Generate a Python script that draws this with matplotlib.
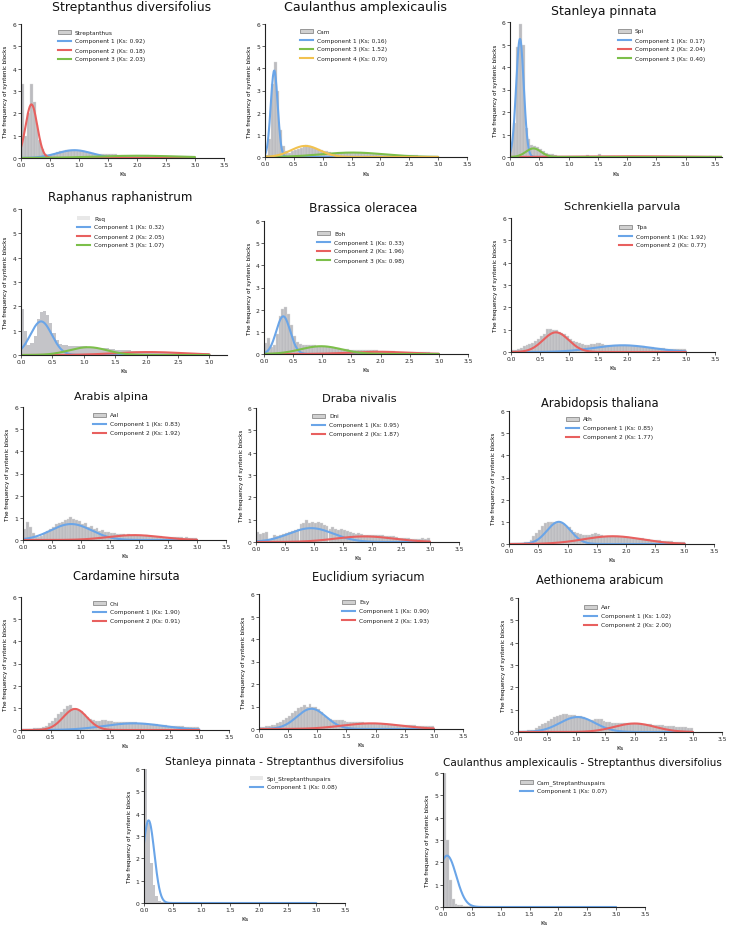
import numpy as np
import matplotlib
matplotlib.use("Agg")
import matplotlib.pyplot as plt
from matplotlib.patches import Rectangle
from matplotlib.lines import Line2D

W, H = 733, 928
BIN = 0.05

# ---------------- histogram bar heights (0.05-wide Ks bins starting at 0) -------------
strep_hist = [3.3, 1.0, 2.0, 3.3, 2.5, 1.5, 0.8, 0.4, 0.2, 0.12,
              0.15, 0.2, 0.25, 0.3, 0.32, 0.34, 0.35, 0.36, 0.35, 0.33,
              0.32, 0.3, 0.28, 0.25, 0.22, 0.2, 0.2, 0.18, 0.18, 0.2,
              0.17, 0.16, 0.16, 0.15, 0.15, 0.14, 0.14, 0.14, 0.13, 0.13,
              0.13, 0.12, 0.12, 0.12, 0.11, 0.11, 0.1, 0.1, 0.1, 0.1,
              0.09, 0.09, 0.09, 0.08, 0.08, 0.08, 0.07, 0.07, 0.07, 0.07]
caul_hist = [0.1, 0.8, 3.3, 4.3, 3.0, 1.2, 0.5, 0.25, 0.2, 0.25,
             0.3, 0.35, 0.42, 0.48, 0.52, 0.5, 0.46, 0.42, 0.38, 0.33,
             0.28, 0.25, 0.22, 0.2, 0.19, 0.19, 0.19, 0.19, 0.2, 0.2,
             0.2, 0.19, 0.18, 0.17, 0.16, 0.15, 0.14, 0.13, 0.12, 0.12,
             0.11, 0.11, 0.1, 0.1, 0.09, 0.09, 0.09, 0.08, 0.08, 0.08,
             0.07, 0.07, 0.07, 0.06, 0.06, 0.06, 0.05, 0.05, 0.05, 0.05]
stan_hist = [0.6, 1.5, 4.9, 5.9, 5.0, 1.3, 0.8, 0.55, 0.5, 0.45,
             0.35, 0.25, 0.2, 0.15, 0.12, 0.08, 0.06, 0.05, 0.05, 0.05,
             0.05, 0.04, 0.05, 0.04, 0.05, 0.05, 0.1, 0.05, 0.04, 0.05,
             0.12, 0.04, 0.03, 0.03, 0.03, 0.03, 0.02, 0.02, 0.02, 0.02,
             0.02, 0.02, 0.02, 0.02, 0.02, 0.02, 0.02, 0.02, 0.02, 0.02,
             0.02, 0.02, 0.02, 0.02, 0.02, 0.02, 0.02, 0.02, 0.02, 0.02,
             0.02, 0.02, 0.02, 0.02, 0.02, 0.02, 0.02, 0.02, 0.05, 0.02, 0.02, 0.02]
raph_hist = [1.9, 1.0, 0.4, 0.5, 0.8, 1.5, 1.75, 1.8, 1.65, 1.3,
             0.9, 0.6, 0.45, 0.4, 0.4, 0.38, 0.36, 0.35, 0.35, 0.35,
             0.35, 0.34, 0.33, 0.32, 0.3, 0.3, 0.28, 0.27, 0.26, 0.25,
             0.22, 0.21, 0.2, 0.2, 0.19, 0.18, 0.18, 0.17, 0.17, 0.16,
             0.15, 0.15, 0.14, 0.14, 0.13, 0.13, 0.12, 0.12, 0.11, 0.11,
             0.1, 0.1, 0.09, 0.09, 0.09, 0.08, 0.08, 0.07, 0.07, 0.07]
bras_hist = [0.5, 0.7, 0.3, 0.4, 0.9, 1.7, 2.05, 2.1, 1.8, 1.3,
             0.8, 0.55, 0.45, 0.42, 0.42, 0.42, 0.4, 0.4, 0.38, 0.38,
             0.36, 0.34, 0.32, 0.3, 0.28, 0.26, 0.24, 0.22, 0.21, 0.2,
             0.2, 0.2, 0.19, 0.19, 0.18, 0.18, 0.17, 0.16, 0.16, 0.15,
             0.14, 0.13, 0.13, 0.12, 0.12, 0.11, 0.11, 0.1, 0.1, 0.09,
             0.09, 0.08, 0.08, 0.08, 0.07, 0.07, 0.07, 0.06, 0.06, 0.06]
schr_hist = [0.1, 0.1, 0.15, 0.2, 0.25, 0.3, 0.35, 0.4, 0.5, 0.6,
             0.7, 0.8, 1.05, 1.05, 1.0, 1.0, 0.9, 0.85, 0.8, 0.7,
             0.6, 0.5, 0.45, 0.4, 0.35, 0.3, 0.32, 0.35, 0.38, 0.4,
             0.4, 0.38, 0.32, 0.3, 0.3, 0.3, 0.31, 0.32, 0.3, 0.3,
             0.3, 0.28, 0.28, 0.27, 0.26, 0.25, 0.24, 0.23, 0.22, 0.2,
             0.18, 0.17, 0.16, 0.15, 0.15, 0.14, 0.14, 0.13, 0.12, 0.12]
arab_hist = [0.5, 0.8, 0.6, 0.3, 0.15, 0.15, 0.2, 0.3, 0.4, 0.5,
             0.6, 0.7, 0.75, 0.8, 0.9, 0.95, 1.05, 0.95, 0.9, 0.85,
             0.7, 0.75, 0.6, 0.65, 0.5, 0.55, 0.4, 0.45, 0.35, 0.35,
             0.3, 0.3, 0.28, 0.25, 0.27, 0.24, 0.25, 0.23, 0.22, 0.24,
             0.22, 0.2, 0.21, 0.19, 0.2, 0.18, 0.17, 0.16, 0.15, 0.14,
             0.14, 0.13, 0.15, 0.12, 0.12, 0.11, 0.13, 0.1, 0.1, 0.09]
draba_hist = [0.45, 0.35, 0.4, 0.45, 0.15, 0.2, 0.3, 0.25, 0.3, 0.35,
              0.4, 0.45, 0.5, 0.55, 0.6, 0.8, 0.85, 1.0, 0.85, 0.9,
              0.85, 0.9, 0.85, 0.75, 0.7, 0.6, 0.65, 0.6, 0.55, 0.6,
              0.55, 0.5, 0.45, 0.4, 0.35, 0.4, 0.35, 0.32, 0.32, 0.33,
              0.32, 0.3, 0.3, 0.3, 0.28, 0.26, 0.25, 0.25, 0.22, 0.2,
              0.2, 0.18, 0.16, 0.15, 0.15, 0.14, 0.15, 0.18, 0.15, 0.2]
ath_hist = [0.05, 0.05, 0.05, 0.05, 0.06, 0.08, 0.1, 0.2, 0.35, 0.5,
            0.65, 0.8, 0.95, 1.0, 1.0, 1.0, 0.95, 0.95, 0.9, 0.8,
            0.75, 0.65, 0.55, 0.5, 0.45, 0.42, 0.4, 0.4, 0.45, 0.5,
            0.45, 0.4, 0.36, 0.35, 0.35, 0.36, 0.35, 0.34, 0.33, 0.32,
            0.3, 0.29, 0.28, 0.27, 0.26, 0.25, 0.24, 0.22, 0.2, 0.19,
            0.17, 0.16, 0.15, 0.14, 0.13, 0.12, 0.11, 0.1, 0.1, 0.09]
card_hist = [0.05, 0.05, 0.06, 0.06, 0.08, 0.08, 0.1, 0.15, 0.2, 0.3,
             0.4, 0.55, 0.7, 0.8, 0.95, 1.1, 1.15, 1.0, 0.95, 0.9,
             0.85, 0.7, 0.6, 0.5, 0.45, 0.4, 0.42, 0.45, 0.45, 0.42,
             0.4, 0.38, 0.38, 0.37, 0.36, 0.36, 0.35, 0.35, 0.34, 0.33,
             0.32, 0.3, 0.29, 0.28, 0.27, 0.25, 0.24, 0.22, 0.21, 0.2,
             0.19, 0.18, 0.17, 0.16, 0.16, 0.15, 0.15, 0.14, 0.14, 0.13]
eucl_hist = [0.1, 0.1, 0.15, 0.15, 0.2, 0.2, 0.25, 0.3, 0.4, 0.5,
             0.6, 0.7, 0.8, 0.95, 1.0, 1.05, 1.0, 1.1, 1.0, 1.0,
             0.9, 0.75, 0.6, 0.5, 0.45, 0.42, 0.4, 0.4, 0.38, 0.35,
             0.32, 0.3, 0.3, 0.3, 0.3, 0.29, 0.28, 0.28, 0.27, 0.26,
             0.25, 0.24, 0.23, 0.22, 0.22, 0.21, 0.2, 0.2, 0.19, 0.18,
             0.17, 0.17, 0.16, 0.16, 0.15, 0.15, 0.14, 0.14, 0.13, 0.12]
aeth_hist = [0.05, 0.05, 0.06, 0.07, 0.08, 0.1, 0.2, 0.28, 0.35, 0.42,
             0.5, 0.58, 0.65, 0.7, 0.75, 0.8, 0.8, 0.78, 0.75, 0.75,
             0.72, 0.7, 0.65, 0.6, 0.55, 0.55, 0.6, 0.6, 0.6, 0.5,
             0.45, 0.43, 0.42, 0.42, 0.42, 0.42, 0.42, 0.42, 0.42, 0.42,
             0.42, 0.4, 0.38, 0.36, 0.35, 0.34, 0.32, 0.31, 0.3, 0.3,
             0.28, 0.27, 0.26, 0.25, 0.24, 0.23, 0.22, 0.21, 0.2, 0.2]
spistrep_hist = [6.0, 3.6, 1.8, 0.8, 0.3, 0.1, 0.05, 0.03, 0.02, 0.02]
camstrep_hist = [6.0, 3.0, 1.2, 0.35, 0.15, 0.1, 0.07, 0.05, 0.04, 0.03]

# ---------------- mixture components: id, Ks (mean), sd, peak height -----------------
strep_id, strep_ks, strep_sd, strep_pk = [1, 2, 3], [0.92, 0.18, 2.03], [0.30, 0.10, 0.75], [0.35, 2.4, 0.10]
caul_id, caul_ks, caul_sd, caul_pk = [1, 3, 4], [0.16, 1.52, 0.70], [0.06, 0.55, 0.25], [3.9, 0.20, 0.50]
stan_id, stan_ks, stan_sd, stan_pk = [1, 2, 3], [0.17, 2.04, 0.40], [0.065, 0.9, 0.13], [5.25, 0.03, 0.38]
raph_id, raph_ks, raph_sd, raph_pk = [1, 2, 3], [0.32, 2.05, 1.07], [0.17, 0.55, 0.30], [1.38, 0.12, 0.32]
bras_id, bras_ks, bras_sd, bras_pk = [1, 2, 3], [0.33, 1.96, 0.98], [0.12, 0.50, 0.35], [1.70, 0.10, 0.35]
schr_id, schr_ks, schr_sd, schr_pk = [1, 2], [1.92, 0.77], [0.50, 0.22], [0.30, 0.88]
arab_id, arab_ks, arab_sd, arab_pk = [1, 2], [0.83, 1.92], [0.35, 0.45], [0.72, 0.22]
draba_id, draba_ks, draba_sd, draba_pk = [1, 2], [0.95, 1.87], [0.38, 0.50], [0.62, 0.25]
ath_id, ath_ks, ath_sd, ath_pk = [1, 2], [0.85, 1.77], [0.20, 0.50], [1.00, 0.35]
card_id, card_ks, card_sd, card_pk = [1, 2], [1.90, 0.91], [0.50, 0.20], [0.30, 0.95]
eucl_id, eucl_ks, eucl_sd, eucl_pk = [1, 2], [0.90, 1.93], [0.25, 0.50], [0.90, 0.25]
aeth_id, aeth_ks, aeth_sd, aeth_pk = [1, 2], [1.02, 2.00], [0.30, 0.35], [0.67, 0.38]
spistrep_id, spistrep_ks, spistrep_sd, spistrep_pk = [1], [0.08], [0.10], [3.7]
camstrep_id, camstrep_ks, camstrep_sd, camstrep_pk = [1], [0.07], [0.16], [2.3]

COLORS = {1: "#6aa5e8", 2: "#e8605f", 3: "#7cbf4a", 4: "#f2c24f"}
BAR_FACE = "#bcbcc0"
BAR_EDGE = "#dcdcdc"

# panel: title, title (cx, cy, size), axes box px (left, right_at_xmax, top, bottom), xmax,
# xticks, hist, hist label, legend (x, y), legend style, components, curve end
panels = [
    ("Streptanthus diversifolius", (132, 8, 8.9), (21, 224, 25, 159), 3.5, 3.5, strep_hist, "Streptanthus", (58, 33), "edge",
     (strep_id, strep_ks, strep_sd, strep_pk), 3.0, "{:.2f}"),
    ("Caulanthus amplexicaulis", (366, 8, 9.1), (265, 467, 25, 158), 3.5, 3.5, caul_hist, "Cam", (300, 32), "edge",
     (caul_id, caul_ks, caul_sd, caul_pk), 3.0, "{:.2f}"),
    ("Stanleya pinnata", (604, 11, 8.9), (510, 722, 23, 158), 3.62, 3.5, stan_hist, "Spi", (618, 32), "edge",
     (stan_id, stan_ks, stan_sd, stan_pk), 3.62, "{:.2f}"),
    ("Raphanus raphanistrum", (120, 198, 8.6), (21, 227, 210, 356), 3.28, 3.0, raph_hist, "Rsq", (77, 219), "light",
     (raph_id, raph_ks, raph_sd, raph_pk), 3.0, "{:.2f}"),
    ("Brassica oleracea", (363, 209, 8.8), (264, 468, 222, 355), 3.5, 3.5, bras_hist, "Boh", (317, 234), "edge",
     (bras_id, bras_ks, bras_sd, bras_pk), 3.0, "{:.2f}"),
    ("Schrenkiella parvula", (622, 207, 8.2), (511, 715, 219, 353), 3.5, 3.5, schr_hist, "Tpa", (619, 228), "edge",
     (schr_id, schr_ks, schr_sd, schr_pk), 3.0, "{:.2f}"),
    ("Arabis alpina", (111, 397, 8.2), (23, 226, 408, 541), 3.5, 3.5, arab_hist, "Aal", (93, 416), "edge",
     (arab_id, arab_ks, arab_sd, arab_pk), 3.0, "{:.2f}"),
    ("Draba nivalis", (359, 399, 8.2), (256, 459, 409, 543), 3.5, 3.5, draba_hist, "Dni", (312, 417), "edge",
     (draba_id, draba_ks, draba_sd, draba_pk), 3.0, "{:.2f}"),
    ("Arabidopsis thaliana", (600, 404, 8.3), (509, 714, 412, 545), 3.5, 3.5, ath_hist, "Ath", (566, 420), "edge",
     (ath_id, ath_ks, ath_sd, ath_pk), 3.0, "{:.2f}"),
    ("Cardamine hirsuta", (126, 577, 8.3), (21, 229, 598, 731), 3.5, 3.5, card_hist, "Chi", (93, 604), "edge",
     (card_id, card_ks, card_sd, card_pk), 3.0, "{:.2f}"),
    ("Euclidium syriacum", (368, 577, 8.3), (259, 463, 595, 730), 3.5, 3.5, eucl_hist, "Esy", (342, 603), "edge",
     (eucl_id, eucl_ks, eucl_sd, eucl_pk), 3.0, "{:.2f}"),
    ("Aethionema arabicum", (600, 581, 8.3), (518, 722, 599, 733), 3.5, 3.5, aeth_hist, "Aar", (584, 608), "edge",
     (aeth_id, aeth_ks, aeth_sd, aeth_pk), 3.0, "{:.2f}"),
    ("Stanleya pinnata - Streptanthus diversifolius", (284, 762, 7.7), (144, 345, 770, 904), 3.5, 3.5, spistrep_hist,
     "Spi_Streptanthuspairs", (250, 779), "light", (spistrep_id, spistrep_ks, spistrep_sd, spistrep_pk), 3.0, "{:.2f}"),
    ("Caulanthus amplexicaulis - Streptanthus diversifolius", (582, 763, 7.5), (443, 645, 774, 908), 3.5, 3.5, camstrep_hist,
     "Cam_Streptanthuspairs", (520, 783), "edge", (camstrep_id, camstrep_ks, camstrep_sd, camstrep_pk), 3.0, "{:.2f}"),
]

plt.rcParams["font.family"] = ["DejaVu Sans"]
fig = plt.figure(figsize=(W / 100, H / 100), dpi=100)

TICK_FS = 4.3
LEG_FS = 4.2
YLAB_FS = 4.1


def fx(px):
    return px / W


def fy(py):
    return 1 - py / H


for (title, (tcx, tcy, tfs), (l, r, t, b), xmax, xtmax, hist, hlabel, (lx, ly), hstyle,
     (cids, cks, csd, cpk), xend, fmt) in panels:
    ax = fig.add_axes([fx(l), fy(b), (r - l) / W, (b - t) / H])
    edges = np.arange(len(hist)) * BIN
    if hstyle == "light":
        ax.bar(edges, hist, width=BIN, align="edge", color="#c4c4c8", edgecolor="none", zorder=1)
    else:
        ax.bar(edges, hist, width=BIN, align="edge", color=BAR_FACE, edgecolor=BAR_EDGE,
               linewidth=0.25, zorder=1)
    xs = np.linspace(0, xend, 500)
    for cid, mu, sd, pk in zip(cids, cks, csd, cpk):
        ys = pk * np.exp(-0.5 * ((xs - mu) / sd) ** 2)
        ax.plot(xs, ys, color=COLORS[cid], lw=1.5, solid_capstyle="round", zorder=2)

    ax.set_xlim(0, xmax)
    ax.set_ylim(0, 6)
    ax.set_xticks(np.arange(0, xtmax + 0.01, 0.5))
    ax.set_xticklabels(["{:.1f}".format(v) for v in np.arange(0, xtmax + 0.01, 0.5)])
    ax.set_yticks(range(0, 7))
    for s in ["top", "right"]:
        ax.spines[s].set_visible(False)
    for s in ["left", "bottom"]:
        ax.spines[s].set_linewidth(0.8)
        ax.spines[s].set_color("#222222")
    ax.tick_params(axis="both", length=2, width=0.5, pad=1.2, labelsize=TICK_FS, colors="#222222")
    axw, axh = r - l, b - t
    ax.set_xlabel("Ks", fontsize=TICK_FS)
    ax.xaxis.set_label_coords(0.5, -16 / axh)
    ax.xaxis.label.set_va("center")
    ax.set_ylabel("The frequency of syntenic blocks", fontsize=YLAB_FS)
    ax.yaxis.set_label_coords(-15 / axw, 0.5)
    ax.yaxis.label.set_va("center")

    fig.text(fx(tcx), fy(tcy), title, ha="center", va="center", fontsize=tfs, color="#111111")

    # legend (drawn in figure pixels)
    hw, hh = 13, 4.5
    if hstyle == "light":
        rect = Rectangle((fx(lx), fy(ly + hh / 2)), hw / W, hh / H, transform=fig.transFigure,
                         facecolor="#e8e8e8", edgecolor="none")
    else:
        rect = Rectangle((fx(lx), fy(ly + hh / 2)), hw / W, hh / H, transform=fig.transFigure,
                         facecolor="#d0d0d0", edgecolor="#8a8a8a", linewidth=0.6)
    fig.add_artist(rect)
    fig.text(fx(lx + 17), fy(ly), hlabel, ha="left", va="center", fontsize=LEG_FS, color="#222222")
    for k, (cid, mu) in enumerate(zip(cids, cks)):
        yy = ly + 9 * (k + 1)
        fig.add_artist(Line2D([fx(lx), fx(lx + hw)], [fy(yy), fy(yy)], transform=fig.transFigure,
                              color=COLORS[cid], lw=1.5))
        txt = "Component {} (Ks: {})".format(cid, fmt.format(mu))
        if title == "Caulanthus amplexicaulis" and cid == 1:
            txt = "Component 1 (Ks; 0,16)"
        fig.text(fx(lx + 17), fy(yy), txt, ha="left", va="center", fontsize=LEG_FS, color="#222222")

fig.savefig("out.png", dpi=100)
